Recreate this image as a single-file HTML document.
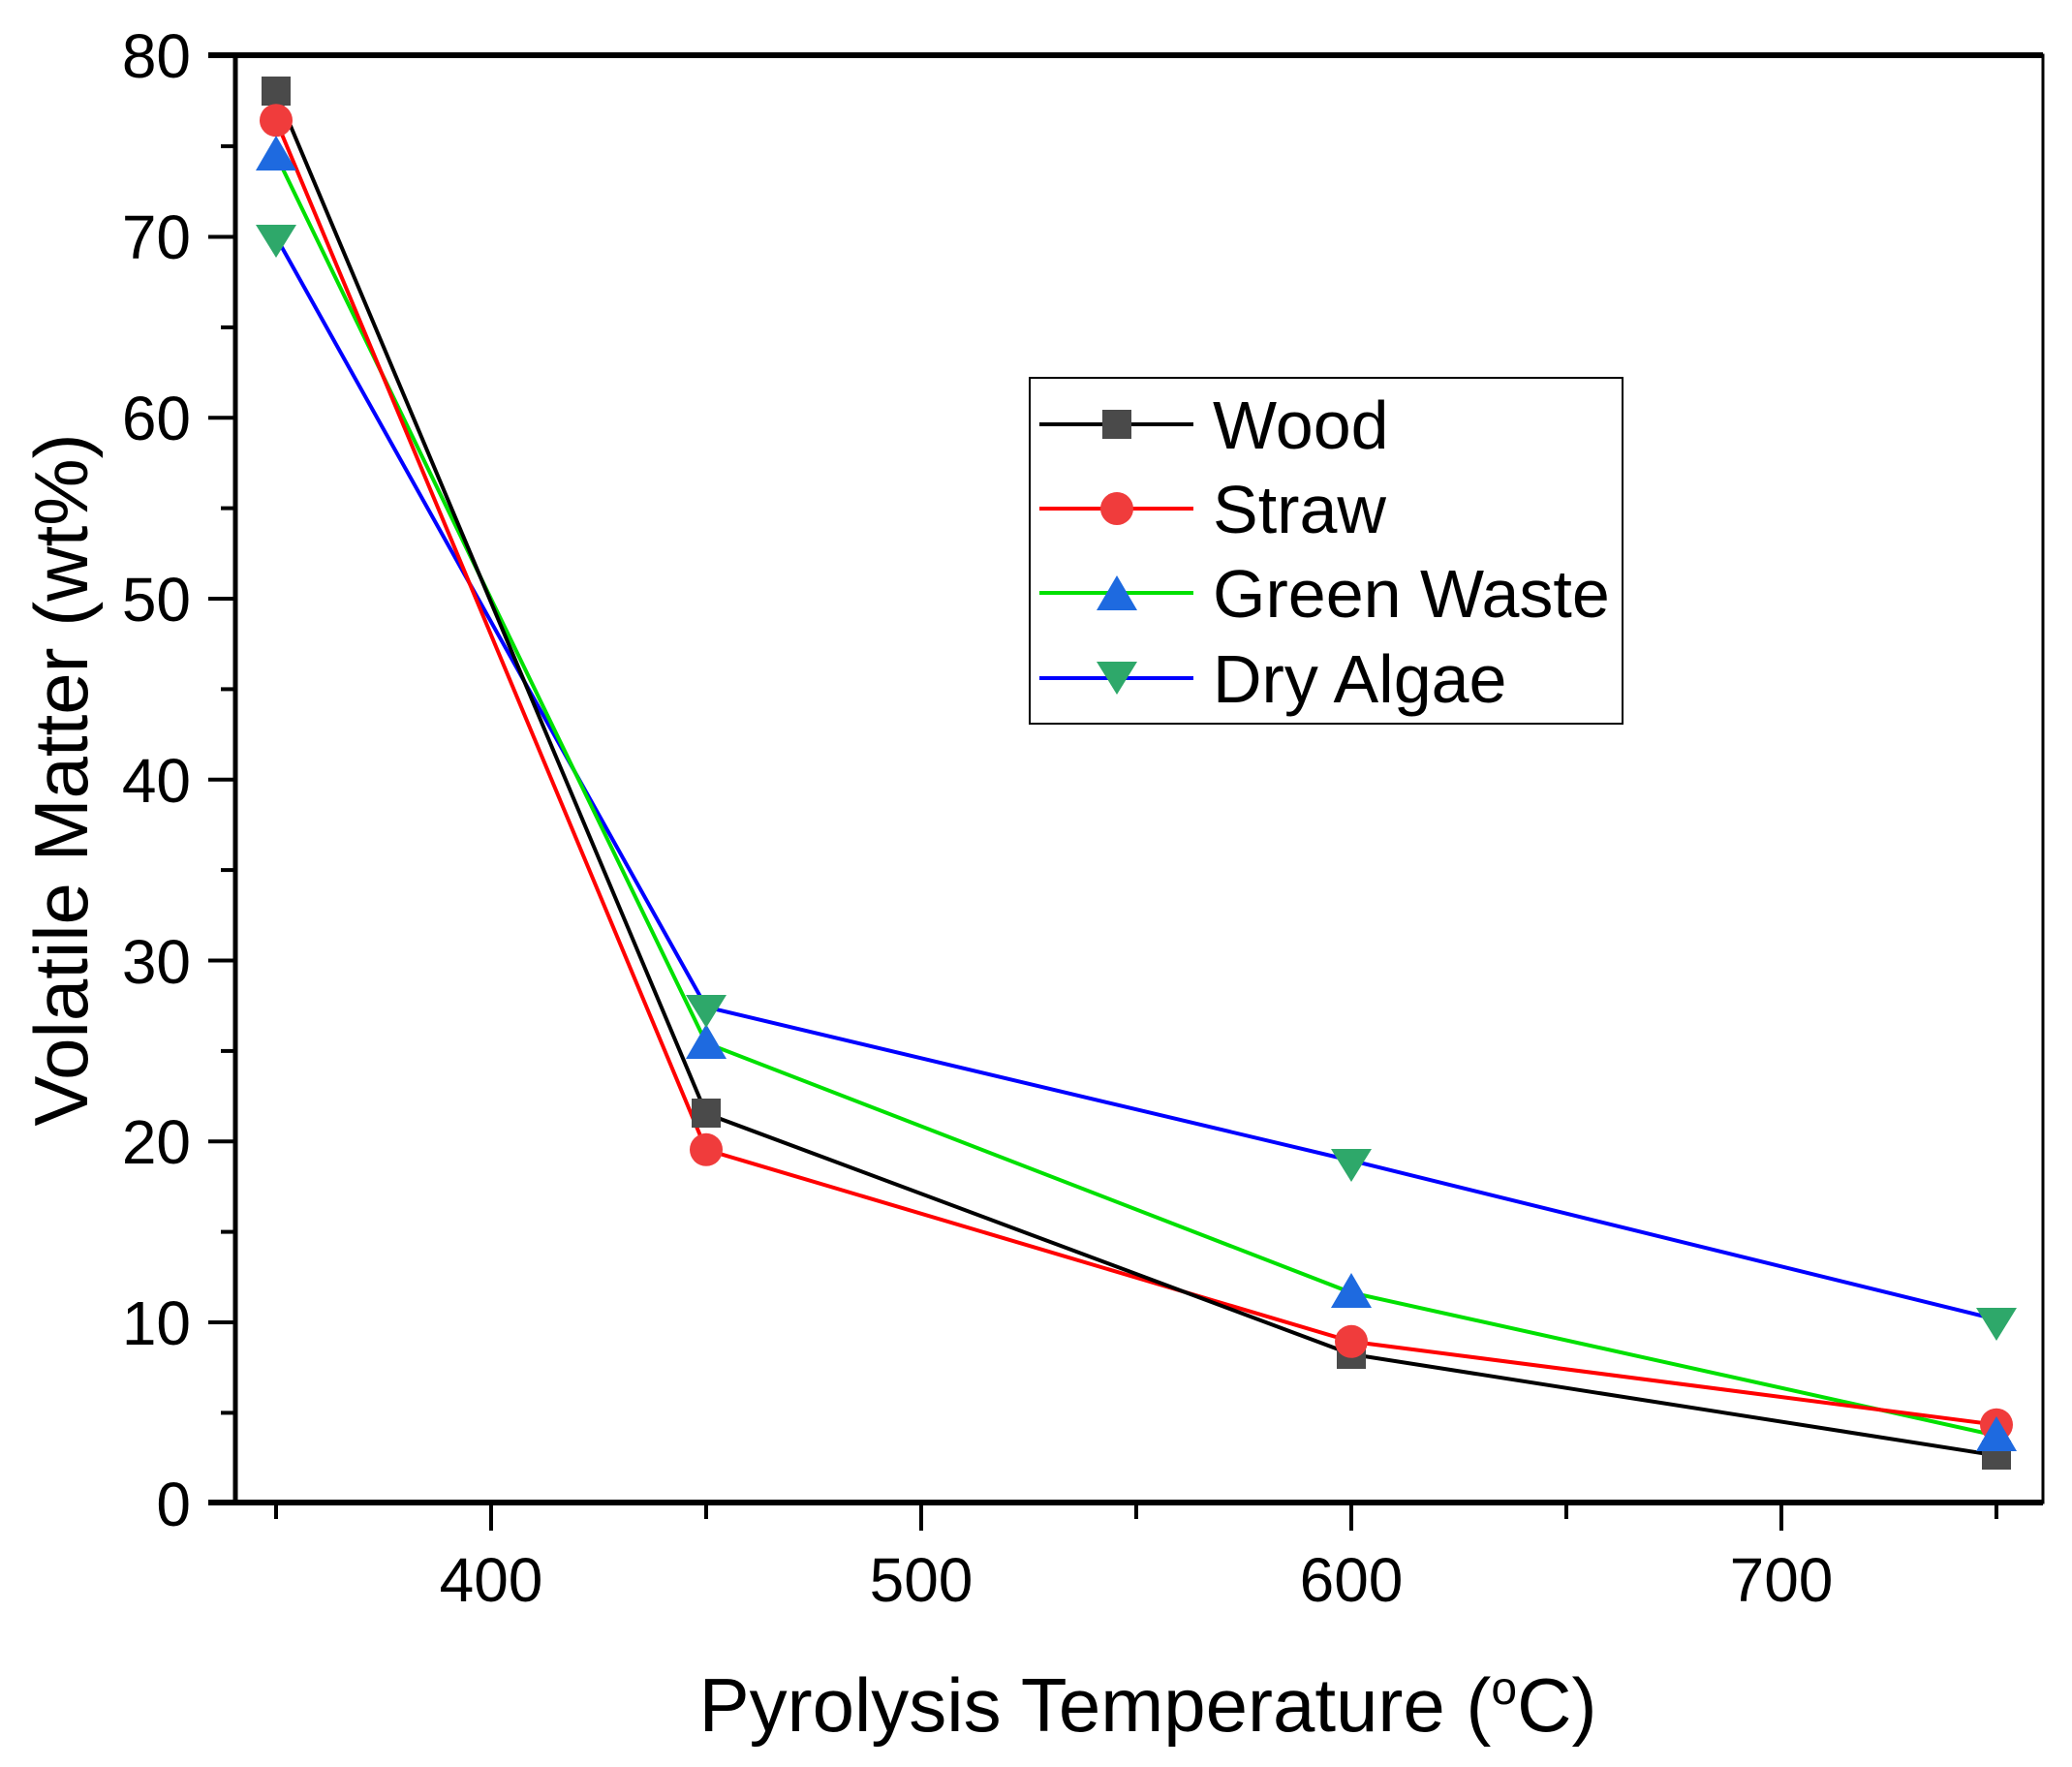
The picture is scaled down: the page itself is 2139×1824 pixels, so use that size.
<!DOCTYPE html>
<html><head><style>body{margin:0;background:#fff}svg{display:block}</style></head><body>
<svg width="2139" height="1824" viewBox="0 0 2139 1824" xmlns="http://www.w3.org/2000/svg" font-family="Liberation Sans, Arial, sans-serif">
<rect width="2139" height="1824" fill="#fff"/>
<rect x="243" y="57" width="1866" height="1494" fill="none" stroke="#000" stroke-width="3"/>
<line x1="215" y1="57" x2="2109" y2="57" stroke="#000" stroke-width="6"/>
<line x1="243" y1="57" x2="243" y2="1551" stroke="#000" stroke-width="5"/>
<line x1="215" y1="1551" x2="2109" y2="1551" stroke="#000" stroke-width="6"/>
<g stroke="#000" stroke-width="4">
<line x1="215" y1="244.5" x2="243" y2="244.5"/><line x1="215" y1="431.25" x2="243" y2="431.25"/><line x1="215" y1="618" x2="243" y2="618"/><line x1="215" y1="804.75" x2="243" y2="804.75"/><line x1="215" y1="991.5" x2="243" y2="991.5"/><line x1="215" y1="1178.25" x2="243" y2="1178.25"/><line x1="215" y1="1365" x2="243" y2="1365"/>
<line x1="228" y1="150.9" x2="243" y2="150.9"/><line x1="228" y1="337.9" x2="243" y2="337.9"/><line x1="228" y1="524.6" x2="243" y2="524.6"/><line x1="228" y1="711.4" x2="243" y2="711.4"/><line x1="228" y1="898.1" x2="243" y2="898.1"/><line x1="228" y1="1084.9" x2="243" y2="1084.9"/><line x1="228" y1="1271.6" x2="243" y2="1271.6"/><line x1="228" y1="1458.4" x2="243" y2="1458.4"/>
<line x1="507" y1="1551" x2="507" y2="1580"/><line x1="951" y1="1551" x2="951" y2="1580"/><line x1="1395" y1="1551" x2="1395" y2="1580"/><line x1="1839" y1="1551" x2="1839" y2="1580"/>
<line x1="285" y1="1551" x2="285" y2="1568"/><line x1="729" y1="1551" x2="729" y2="1568"/><line x1="1173" y1="1551" x2="1173" y2="1568"/><line x1="1617" y1="1551" x2="1617" y2="1568"/><line x1="2061" y1="1551" x2="2061" y2="1568"/>
</g>
<g font-size="64" text-anchor="end" fill="#000">
<text x="197" y="80">80</text><text x="197" y="267">70</text><text x="197" y="454">60</text><text x="197" y="641">50</text><text x="197" y="828">40</text><text x="197" y="1015">30</text><text x="197" y="1201">20</text><text x="197" y="1388">10</text><text x="197" y="1575">0</text>
</g>
<g font-size="64" text-anchor="middle">
<text x="507" y="1653">400</text><text x="951" y="1653">500</text><text x="1395" y="1653">600</text><text x="1839" y="1653">700</text>
</g>
<text x="1185" y="1787" font-size="78" text-anchor="middle">Pyrolysis Temperature (<tspan dy="-28" font-size="48">o</tspan><tspan dy="28">C)</tspan></text>
<text transform="translate(90,805) rotate(-90)" font-size="78" text-anchor="middle">Volatile Matter (wt%)</text>
<g fill="none" stroke-width="4">
<polyline stroke="#0000ff" points="285,244.5 729,1039.5 1395,1198 2061,1362"/>
<polyline stroke="#00e000" points="285,160 729,1076.7 1395,1334.4 2061,1481.9"/>
<polyline stroke="#ff0000" points="285,124.2 729,1186.8 1395,1384.8 2061,1470.7"/>
<polyline stroke="#000" points="285,94.4 729,1149.5 1395,1397.9 2061,1502.4"/>
</g>
<g fill="#4a4a4a"><rect x="270" y="79" width="30" height="30"/><rect x="714" y="1134" width="30" height="30"/><rect x="1380" y="1383" width="30" height="30"/><rect x="2046" y="1487" width="30" height="30"/></g>
<g fill="#f03c3c"><circle cx="285" cy="124.2" r="17"/><circle cx="729" cy="1186.8" r="17"/><circle cx="1395" cy="1384.8" r="17"/><circle cx="2061" cy="1470.7" r="17"/></g>
<g fill="#1e6ae0"><polygon points="285,140 264,176 306,176"/><polygon points="729,1057 708,1093 750,1093"/><polygon points="1395,1314 1374,1350 1416,1350"/><polygon points="2061,1462 2040,1498 2082,1498"/></g>
<g fill="#2ea86a"><polygon points="264,232 306,232 285,266"/><polygon points="708,1027 750,1027 729,1061"/><polygon points="1374,1186 1416,1186 1395,1220"/><polygon points="2040,1350 2082,1350 2061,1384"/></g>
<rect x="1063" y="390" width="612" height="357" fill="#fff" stroke="#000" stroke-width="2"/>
<line x1="1073" y1="438" x2="1232" y2="438" stroke="#000" stroke-width="4"/><rect x="1138" y="423" width="30" height="30" fill="#4a4a4a"/>
<line x1="1073" y1="525" x2="1232" y2="525" stroke="#ff0000" stroke-width="4"/><circle cx="1153" cy="525" r="17" fill="#f03c3c"/>
<line x1="1073" y1="612" x2="1232" y2="612" stroke="#00e000" stroke-width="4"/><polygon points="1153,594 1132,630 1174,630" fill="#1e6ae0"/>
<line x1="1073" y1="700" x2="1232" y2="700" stroke="#0000ff" stroke-width="4"/><polygon points="1132,683 1174,683 1153,717" fill="#2ea86a"/>
<g font-size="70"><text x="1252" y="463">Wood</text><text x="1252" y="550">Straw</text><text x="1252" y="637">Green Waste</text><text x="1252" y="725">Dry Algae</text></g>
</svg>
</body></html>
